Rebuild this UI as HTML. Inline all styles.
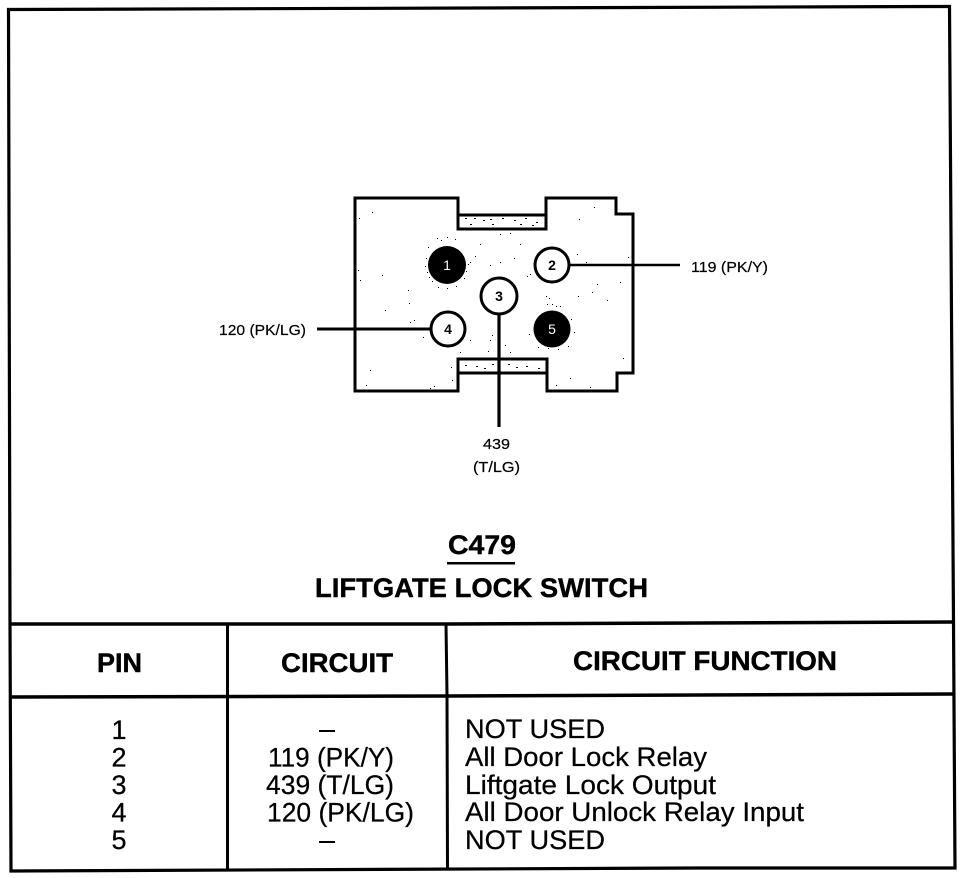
<!DOCTYPE html>
<html>
<head>
<meta charset="utf-8">
<title>C479 Liftgate Lock Switch</title>
<style>
html,body{margin:0;padding:0;background:#fff;width:976px;height:878px;overflow:hidden}
svg{display:block}
text{font-family:"Liberation Sans",Arial,sans-serif;fill:#000}
.r{font-size:27px;stroke:#000;stroke-width:.25px}
.h{font-size:27px;font-weight:bold;stroke:#000;stroke-width:.4px}
.l{font-size:15px;stroke:#000;stroke-width:.2px}
</style>
</head>
<body>
<svg width="976" height="878" viewBox="0 0 976 878" xmlns="http://www.w3.org/2000/svg">
<rect width="976" height="878" fill="#fff"/>
<!-- outer frame -->
<polyline points="10,625 8.5,9.5 935,6.5 949.5,6.5 953.5,622 955,868 700,868 11,871 10,624" fill="none" stroke="#000" stroke-width="3.2"/>
<!-- table lines -->
<g fill="none" stroke="#000">
<path d="M10,624 L450,624 L954,622" stroke-width="3.5"/>
<path d="M10,697 L450,696 L954,694" stroke-width="3.5"/>
<path d="M227.5,624 L227.5,870" stroke-width="3"/>
<path d="M446,624 L447,695 L447.5,869" stroke-width="3"/>
</g>
<!-- connector body -->
<g fill="none" stroke="#000" stroke-width="3">
<path d="M355,198 H458 V229 H546 V198 H616 V214 H633 V373 H617 V391 H547 V359 H458 V391 H355 Z" fill="#fff"/>
<path d="M458,215 H546"/>
<path d="M458,373 H547"/>
</g>
<!-- stipple -->
<g fill="#000">
<path d="M437,238h1v1h-1zM441,240h1v1h-1zM447,237h1v1h-1zM455,239h1v1h-1zM428,247h1v1h-1zM426,258h1v1h-1zM425,266h1v1h-1zM427,272h1v1h-1zM429,277h1v1h-1zM432,281h1v1h-1zM438,287h1v1h-1zM447,288h1v1h-1zM456,286h1v1h-1zM464,278h1v1h-1zM468,264h1v1h-1zM466,271h1v1h-1zM470,262h1v1h-1zM475,256h1v1h-1zM480,244h1v1h-1zM500,234h1v1h-1zM510,233h1v1h-1zM520,244h1v1h-1zM514,258h1v1h-1zM500,262h1v1h-1zM490,265h1v1h-1zM527,276h1v1h-1zM530,274h1v1h-1zM577,254h1v1h-1zM586,262h1v1h-1zM597,284h1v1h-1zM592,292h1v1h-1zM578,296h1v1h-1zM549,298h1v1h-1zM546,296h1v1h-1zM547,304h1v1h-1zM552,304h1v1h-1zM556,306h1v1h-1zM560,306h1v1h-1zM571,319h1v1h-1zM574,332h1v1h-1zM568,346h1v1h-1zM558,349h1v1h-1zM548,348h1v1h-1zM538,347h1v1h-1zM529,334h1v1h-1zM492,335h1v1h-1zM490,340h1v1h-1zM505,345h1v1h-1zM510,352h1v1h-1zM488,351h1v1h-1zM470,340h1v1h-1zM460,352h1v1h-1zM423,337h1v1h-1zM414,320h1v1h-1zM409,303h1v1h-1zM408,290h1v1h-1zM410,322h1v1h-1zM372,212h1v1h-1zM359,218h1v1h-1zM358,270h1v1h-1zM360,280h1v1h-1zM382,275h1v1h-1zM385,310h1v1h-1zM370,370h1v1h-1zM366,385h1v1h-1zM430,388h1v1h-1zM434,386h1v1h-1zM452,380h1v1h-1zM451,367h1v1h-1zM556,385h1v1h-1zM570,378h1v1h-1zM590,387h1v1h-1zM623,358h1v1h-1zM607,300h1v1h-1zM620,282h1v1h-1zM628,257h1v1h-1zM579,219h1v1h-1zM594,207h1v1h-1z" />
<path d="M465,218h2v1h-2zM474,218h2v1h-2zM483,220h2v1h-2zM490,219h2v1h-2zM502,218h2v1h-2zM514,220h2v1h-2zM525,218h2v1h-2zM536,222h2v1h-2zM470,224h2v1h-2zM492,224h2v1h-2zM520,224h2v1h-2zM532,225h2v1h-2zM465,365h2v1h-2zM476,366h2v1h-2zM484,368h2v1h-2zM492,364h2v1h-2zM508,364h2v1h-2zM516,367h2v1h-2zM526,366h2v1h-2zM538,368h2v1h-2z"/>
</g>
<!-- pins -->
<circle cx="447" cy="265" r="19" fill="#000"/>
<circle cx="552" cy="265" r="17" fill="#fff" stroke="#000" stroke-width="3"/>
<circle cx="499" cy="296" r="18" fill="#fff" stroke="#000" stroke-width="3"/>
<circle cx="448" cy="329" r="17" fill="#fff" stroke="#000" stroke-width="3"/>
<circle cx="552" cy="329" r="18.5" fill="#000"/>
<!-- wires -->
<g stroke="#000" fill="none">
<path d="M570,265 H680" stroke-width="2.6"/>
<path d="M317,329 H430" stroke-width="3"/>
<path d="M499,314 V427" stroke-width="3.2"/>
</g>
<!-- pin numbers -->
<g font-size="14" text-anchor="middle">
<text x="447" y="270" style="fill:#fff;font-size:14px">1</text>
<text x="552" y="270" style="font-size:14px;font-weight:bold">2</text>
<text x="499" y="301" style="font-size:14px;font-weight:bold">3</text>
<text x="448" y="334" style="font-size:14px;font-weight:bold">4</text>
<text x="552" y="334" style="fill:#fff;font-size:14px">5</text>
</g>
<!-- wire labels -->
<text class="l" x="691" y="272" textLength="77" lengthAdjust="spacingAndGlyphs">119 (PK/Y)</text>
<text class="l" x="219" y="335" textLength="87" lengthAdjust="spacingAndGlyphs">120 (PK/LG)</text>
<text class="l" x="483" y="449" textLength="27" lengthAdjust="spacingAndGlyphs">439</text>
<text class="l" x="473" y="472" textLength="47" lengthAdjust="spacingAndGlyphs">(T/LG)</text>
<!-- title -->
<text class="h" x="448" y="554" textLength="68" lengthAdjust="spacingAndGlyphs">C479</text>
<rect x="447" y="562" width="68" height="2.5" fill="#000"/>
<text class="h" x="315" y="597" textLength="333" lengthAdjust="spacingAndGlyphs">LIFTGATE LOCK SWITCH</text>
<!-- table headers -->
<text class="h" x="97" y="672" textLength="45" lengthAdjust="spacingAndGlyphs">PIN</text>
<text class="h" x="281" y="672" textLength="112" lengthAdjust="spacingAndGlyphs">CIRCUIT</text>
<text class="h" x="573" y="670" textLength="264" lengthAdjust="spacingAndGlyphs">CIRCUIT FUNCTION</text>
<!-- pin col -->
<g text-anchor="middle">
<text class="r" x="119" y="739">1</text>
<text class="r" x="119" y="766.5">2</text>
<text class="r" x="119" y="794">3</text>
<text class="r" x="119" y="821.5">4</text>
<text class="r" x="119" y="849">5</text>
</g>
<!-- circuit col -->
<rect x="319" y="730" width="16" height="2" fill="#000"/>
<text class="r" x="268" y="766.5" textLength="126" lengthAdjust="spacingAndGlyphs">119 (PK/Y)</text>
<text class="r" x="266" y="794" textLength="128" lengthAdjust="spacingAndGlyphs">439 (T/LG)</text>
<text class="r" x="267" y="821.5" textLength="147" lengthAdjust="spacingAndGlyphs">120 (PK/LG)</text>
<rect x="319" y="841" width="16" height="2" fill="#000"/>
<!-- function col -->
<text class="r" x="465" y="738" textLength="140" lengthAdjust="spacingAndGlyphs">NOT USED</text>
<text class="r" x="465" y="766" textLength="242" lengthAdjust="spacingAndGlyphs">All Door Lock Relay</text>
<text class="r" x="465" y="794" textLength="251" lengthAdjust="spacingAndGlyphs">Liftgate Lock Output</text>
<text class="r" x="465" y="821" textLength="339" lengthAdjust="spacingAndGlyphs">All Door Unlock Relay Input</text>
<text class="r" x="465" y="849" textLength="140" lengthAdjust="spacingAndGlyphs">NOT USED</text>
</svg>
</body>
</html>
